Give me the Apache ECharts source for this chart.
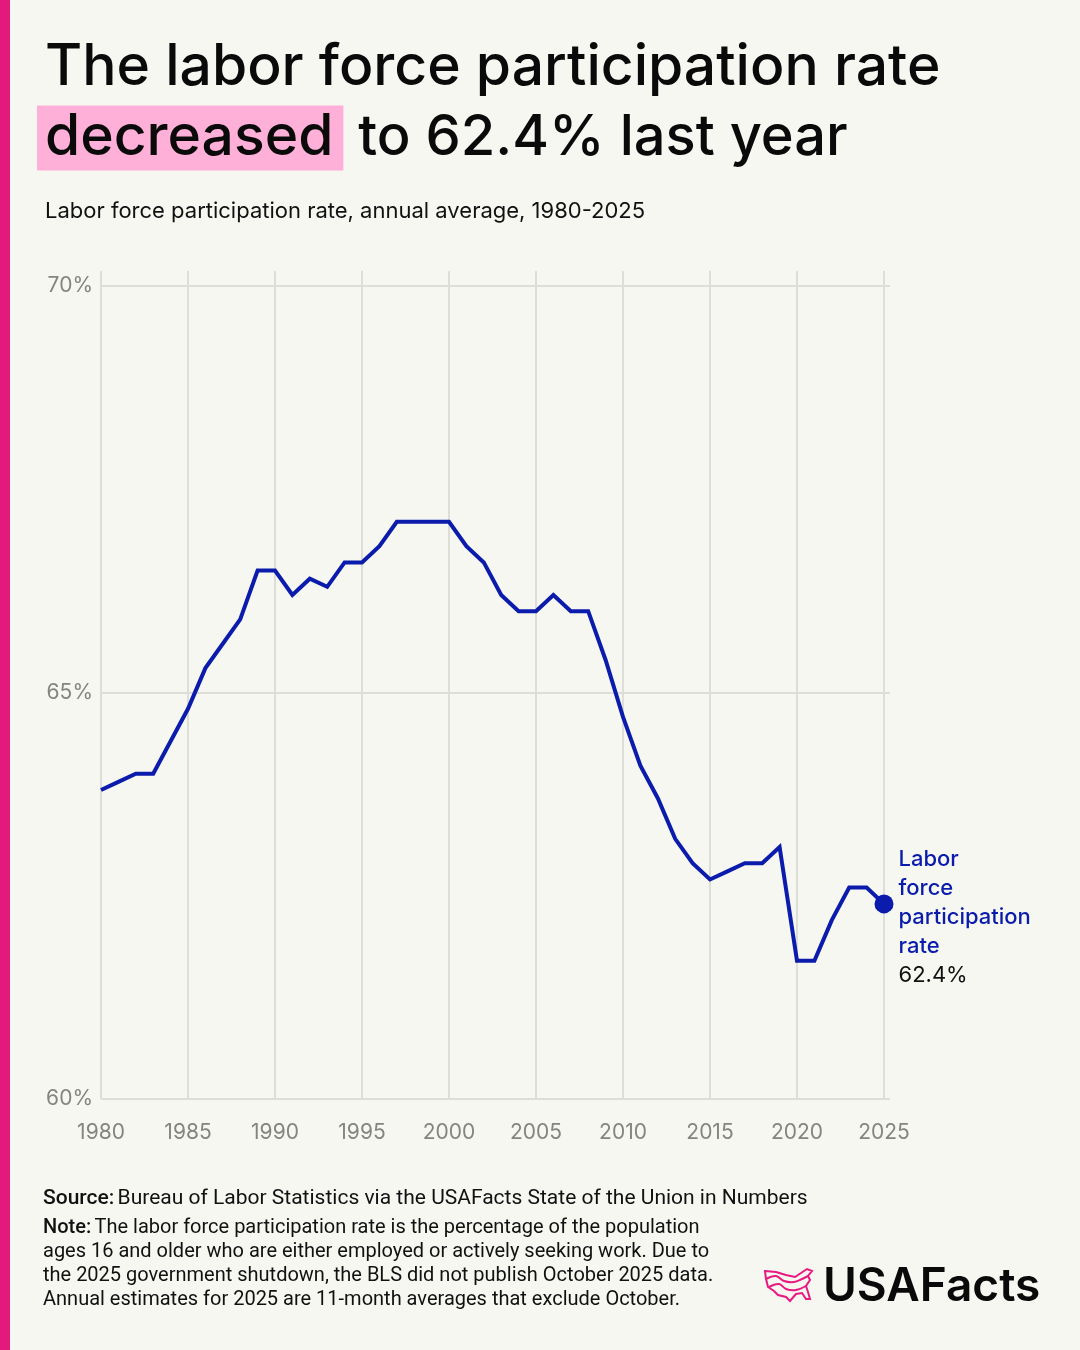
<!DOCTYPE html>
<html>
<head>
<meta charset="utf-8">
<script src="https://cdn.jsdelivr.net/npm/echarts@6.0.0/dist/echarts.min.js"></script>
<style>
  html, body { margin: 0; padding: 0; background: #f7f7f2; }
  #chart { width: 1080px; height: 1350px; }
</style>
</head>
<body>
<div id="chart"></div>
<script>
// annual average labor force participation rate, %
var years = [1980, 1981, 1982, 1983, 1984, 1985, 1986, 1987, 1988, 1989,
             1990, 1991, 1992, 1993, 1994, 1995, 1996, 1997, 1998, 1999,
             2000, 2001, 2002, 2003, 2004, 2005, 2006, 2007, 2008, 2009,
             2010, 2011, 2012, 2013, 2014, 2015, 2016, 2017, 2018, 2019,
             2020, 2021, 2022, 2023, 2024, 2025];
var rate = [63.8, 63.9, 64.0, 64.0, 64.4, 64.8, 65.3, 65.6, 65.9, 66.5,
            66.5, 66.2, 66.4, 66.3, 66.6, 66.6, 66.8, 67.1, 67.1, 67.1,
            67.1, 66.8, 66.6, 66.2, 66.0, 66.0, 66.2, 66.0, 66.0, 65.4,
            64.7, 64.1, 63.7, 63.2, 62.9, 62.7, 62.8, 62.9, 62.9, 63.1,
            61.7, 61.7, 62.2, 62.6, 62.6, 62.4];
var yTicks = [60, 65, 70];

var blue = '#0b1cad';
var gridGray = '#deded8';
var labelGray = '#85857f';
var sans = 'Inter, "Noto Sans", sans-serif';
var note = 'Roboto, sans-serif';

var lineData = years.map(function (y, i) { return [y, rate[i]]; });
var last = lineData[lineData.length - 1];

var chart = echarts.init(document.getElementById('chart'));

chart.setOption({
  backgroundColor: '#f7f7f2',
  animation: false,
  textStyle: { fontFamily: sans },
  grid: [
    // main plot
    { left: 101, width: 783, top: 286, height: 813 },
    // vertical gridlines, a bit taller than the plot
    { left: 101, width: 783, top: 271, height: 828 },
    // horizontal gridlines, a bit wider than the plot
    { left: 101, width: 789, top: 286, height: 813 }
  ],
  xAxis: [
    {
      gridIndex: 0, type: 'value', min: 1980, max: 2025, interval: 5,
      axisLine: { show: false }, axisTick: { show: false }, splitLine: { show: false },
      axisLabel: {
        color: labelGray, fontSize: 21, margin: 23, fontFamily: sans,
        formatter: function (v) { return String(v); }
      }
    },
    {
      gridIndex: 1, type: 'value', min: 1980, max: 2025, interval: 5,
      axisLine: { show: false }, axisTick: { show: false }, axisLabel: { show: false },
      splitLine: { show: true, lineStyle: { color: gridGray, width: 2 } }
    },
    { gridIndex: 2, type: 'value', min: 0, max: 1, show: false }
  ],
  yAxis: [
    { gridIndex: 0, type: 'value', min: 60, max: 70, show: false },
    { gridIndex: 1, type: 'value', min: 0, max: 1, show: false },
    {
      gridIndex: 2, type: 'value', min: yTicks[0], max: yTicks[2], interval: 5,
      axisLine: { show: false }, axisTick: { show: false },
      axisLabel: { color: labelGray, fontSize: 21, margin: 8, formatter: '{value}%', fontFamily: sans },
      splitLine: { show: true, lineStyle: { color: gridGray, width: 2 } }
    }
  ],
  series: [
    {
      type: 'line',
      xAxisIndex: 0, yAxisIndex: 0,
      data: lineData,
      showSymbol: false,
      lineStyle: { color: blue, width: 4, join: 'miter' },
      z: 3
    },
    {
      type: 'scatter',
      xAxisIndex: 0, yAxisIndex: 0,
      data: [last],
      symbolSize: 19,
      itemStyle: { color: blue, opacity: 1 },
      z: 4,
      label: {
        show: true,
        position: 'right',
        distance: 5,
        offset: [0, 14],
        formatter: function (p) {
          return '{a|Labor}\n{a|force}\n{a|participation}\n{a|rate}\n{b|' + p.value[1].toFixed(1) + '%}';
        },
        rich: {
          a: { color: blue, fontSize: 22, fontWeight: 500, lineHeight: 29, fontFamily: sans },
          b: { color: '#111', fontSize: 22, fontWeight: 400, lineHeight: 29, fontFamily: sans }
        }
      }
    }
  ],
  graphic: [
    { type: 'rect', shape: { x: 0, y: 0, width: 10, height: 1350 }, style: { fill: '#e3197e' } },
    {
      type: 'text', x: 45, y: 68,
      style: { text: 'The labor force participation rate', font: '500 57px ' + sans, fill: '#0a0a0a', textVerticalAlign: 'middle' }
    },
    {
      type: 'text', x: 37, y: 138,
      style: {
        text: '{h|decreased}{n| to 62.4% last year}',
        textVerticalAlign: 'middle',
        rich: {
          h: { font: '500 57px ' + sans, fill: '#0a0a0a', backgroundColor: '#ffb0d8', padding: [4, 10, 4, 8], lineHeight: 56 },
          n: { font: '500 56px ' + sans, fill: '#0a0a0a', lineHeight: 56 }
        }
      }
    },
    {
      type: 'text', x: 45, y: 211,
      style: { text: 'Labor force participation rate, annual average, 1980-2025', font: '400 22px ' + sans, fill: '#111', textVerticalAlign: 'middle' }
    },
    {
      type: 'text', x: 43, y: 1199,
      style: {
        text: '{b|Source:} {n|Bureau of Labor Statistics via the USAFacts State of the Union in Numbers}',
        textVerticalAlign: 'middle',
        rich: {
          b: { font: '500 21px ' + note, fill: '#111' },
          n: { font: '400 21px ' + note, fill: '#111' }
        }
      }
    },
    {
      type: 'text', x: 43, y: 1216,
      style: {
        text: '{b|Note:} {n|The labor force participation rate is the percentage of the population}\n' +
              '{n|ages 16 and older who are either employed or actively seeking work. Due to}\n' +
              '{n|the 2025 government shutdown, the BLS did not publish October 2025 data.}\n' +
              '{n|Annual estimates for 2025 are 11-month averages that exclude October.}',
        textVerticalAlign: 'top',
        rich: {
          b: { font: '500 20px ' + note, fill: '#111', lineHeight: 24 },
          n: { font: '400 20px ' + note, fill: '#111', lineHeight: 24 }
        }
      }
    },
    // logo mark: rough outline of the US with flag stripes
    {
      type: 'polygon', x: 764, y: 1268,
      shape: {
        points: [[1, 3], [12, 4], [22, 7], [31, 9], [37, 5], [43, 1], [48, 3], [44, 8], [46, 12],
                 [42, 18], [44, 24], [46, 31], [42, 31], [38, 25], [32, 26], [26, 33], [22, 29],
                 [14, 27], [10, 23], [4, 19], [2, 11]]
      },
      style: { fill: null, stroke: '#e8197f', lineWidth: 2 }
    },
    {
      type: 'polyline', x: 764, y: 1268,
      shape: { points: [[2, 11], [12, 8], [20, 13], [30, 14], [38, 11], [44, 8]], smooth: 0.4 },
      style: { fill: null, stroke: '#e8197f', lineWidth: 2 }
    },
    {
      type: 'polyline', x: 764, y: 1268,
      shape: { points: [[5, 19], [15, 16], [22, 21], [32, 22], [42, 18]], smooth: 0.4 },
      style: { fill: null, stroke: '#e8197f', lineWidth: 2 }
    },
    {
      type: 'text', x: 823, y: 1287,
      style: { text: 'USAFacts', font: '600 46px ' + sans, fill: '#0a0a0a', textVerticalAlign: 'middle' }
    }
  ]
});
</script>
</body>
</html>
